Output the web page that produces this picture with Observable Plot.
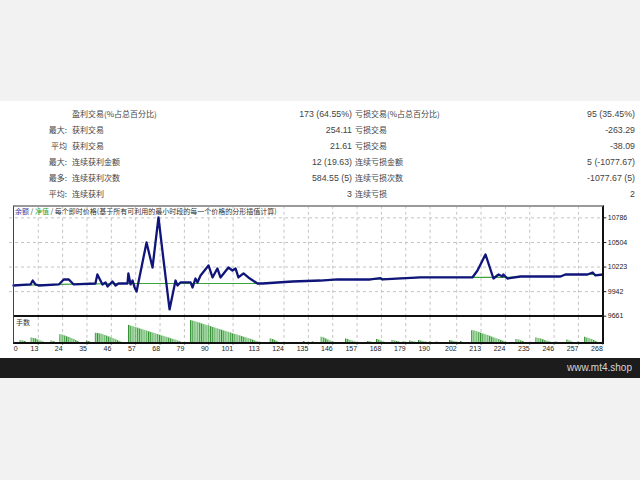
<!DOCTYPE html>
<html><head><meta charset="utf-8">
<script src="https://cdn.jsdelivr.net/npm/d3@7"></script>
<script src="https://cdn.jsdelivr.net/npm/@observablehq/plot@0.6"></script>
<style>
html,body{margin:0;padding:0;}
body{width:640px;height:480px;background:#f2f2f3;position:relative;overflow:hidden;font-family:"Liberation Sans","Noto Sans CJK SC",sans-serif;}
#white{position:absolute;left:0;top:101px;width:640px;height:257px;background:#fff;}
#bar{position:absolute;left:0;top:358px;width:640px;height:20px;background:#1c1c1c;}
#brand{position:absolute;right:8px;top:362px;color:#d6d6d6;font-size:10px;line-height:12px;}
.cell{position:absolute;color:#444;white-space:nowrap;line-height:10px;}
.cjk{font-size:8px;font-family:"Noto Sans CJK SC",sans-serif;}
.num{font-size:8.8px;font-family:"Liberation Sans",sans-serif;}
.plot{position:absolute;left:0;}
.frame{position:absolute;box-sizing:border-box;pointer-events:none;}
#title{position:absolute;left:15px;top:207px;font-size:7px;line-height:9px;color:#333;font-family:"Noto Sans CJK SC",sans-serif;white-space:nowrap;}
#lots{position:absolute;left:16px;top:318px;font-size:7px;line-height:9px;color:#333;font-family:"Noto Sans CJK SC",sans-serif;}
</style></head>
<body>
<div id="white"></div>
<div id="stats"></div>
<div id="bar"></div>
<div id="brand">www.mt4.shop</div>
<div id="chart"></div>
<script>
// ---- stats table ----
const statLeftLabels = ["", "最大:", "平均", "最大:", "最多:", "平均:"];
const statWinNames = ["盈利交易(%占总百分比)", "获利交易", "获利交易", "连续获利金额", "连续获利次数", "连续获利"];
const statWinValues = ["173 (64.55%)", "254.11", "21.61", "12 (19.63)", "584.55 (5)", "3"];
const statLossNames = ["亏损交易(%占总百分比)", "亏损交易", "亏损交易", "连续亏损金额", "连续亏损次数", "连续亏损"];
const statLossValues = ["95 (35.45%)", "-263.29", "-38.09", "5 (-1077.67)", "-1077.67 (5)", "2"];

// ---- chart text ----
const titleBalance = "余额";
const titleEquity = "净值";
const titleRest = "每个即时价格(基于所有可利用的最小时段的每一个价格的分形插值计算)";
const volumeLabel = "手数";

// ---- axes ----
const xTicks = [0, 13, 24, 35, 46, 57, 68, 79, 90, 101, 113, 124, 135, 146, 157, 168, 179, 190, 202, 213, 224, 235, 246, 257, 268];
const yTicks = [9661, 9942, 10223, 10504, 10786];

// ---- balance (trade index, value) ----
const balance = [
  [1.8,10012],[9.5,10024],[10.5,10069],[11.7,10024],[13.2,10012],[22.3,10024],[24.5,10081],[26.8,10081],[29,10024],
  [38.8,10035],[39.7,10138],[42,10024],[43.4,10047],[44.3,10001],[46.5,10058],[47.9,10012],[49.2,10035],[53.3,10035],
  [53.7,10150],[54.7,10024],[55.6,10069],[56.5,9989],[57.4,9944],[61.9,10504],[64.6,10218],[67.3,10790],[69.6,10298],
  [72.3,9738],[75,10069],[75.9,10012],[77.2,10047],[81.8,10047],[82.7,9989],[84,10092],[84.9,10047],[86.3,10127],
  [89.9,10241],[91.7,10104],[93.9,10207],[95.3,10104],[98.9,10218],[100.7,10184],[102.1,10207],[103.4,10104],
  [105.7,10150],[107.9,10104],[112,10035],[114.3,10035],[127.8,10058],[140.5,10069],[148.1,10081],[163,10081],
  [167.6,10096],[168.5,10081],[185.6,10104],[200.5,10104],[209.1,10104],[211.4,10184],[215,10367],[218.6,10092],
  [220.9,10138],[222.7,10115],[223.1,10138],[224.9,10092],[230.8,10115],[248.9,10115],[251.1,10138],[261.1,10138],
  [263.4,10161],[264.7,10127],[267.9,10138]
];
// ---- equity (trade index, value) ----
const equity = [
  [1.8,10012],[22,10024],[53,10035],[112,10035],[114.3,10035],[127.8,10058],[140.5,10069],[148,10081],[163,10081],
  [185.6,10104],[209,10104],[225,10104],[230.8,10115],[249,10115],[251,10138],[268,10138]
];
// ---- volumes (trade index, lots) ----
const volumes = [
  [5,0.025],[6,0.02],[7,0.015],
  [10,0.05],[11,0.045],[12,0.04],[13,0.03],[14,0.02],[15,0.012],
  [19,0.02],[20,0.015],
  [23,0.083],[24,0.078],[25,0.07],[26,0.062],[27,0.055],[28,0.045],[29,0.036],[30,0.025],[31,0.015],
  [35,0.02],[36,0.015],
  [39,0.097],[40,0.095],[41,0.09],[42,0.085],[43,0.075],[44,0.068],[45,0.06],[46,0.05],[47,0.042],[48,0.032],[49,0.022],[50,0.012],
  [54,0.176],[55,0.168],[56,0.162],[57,0.155],[58,0.148],[59,0.14],[60,0.133],[61,0.126],[62,0.119],[63,0.112],[64,0.105],
  [65,0.098],[66,0.091],[67,0.084],[68,0.077],[69,0.07],[70,0.063],[71,0.056],[72,0.049],[73,0.042],[74,0.035],[75,0.028],[76,0.02],[77,0.012],
  [82,0.223],[83,0.218],[84,0.211],[85,0.205],[86,0.198],[87,0.19],[88,0.183],[89,0.176],[90,0.17],[91,0.163],[92,0.155],
  [93,0.148],[94,0.141],[95,0.134],[96,0.127],[97,0.12],[98,0.113],[99,0.106],[100,0.099],[101,0.092],[102,0.085],[103,0.078],
  [104,0.071],[105,0.064],[106,0.057],[107,0.05],[108,0.043],[109,0.036],[110,0.028],[111,0.02],[112,0.012],
  [118,0.04],[119,0.035],[120,0.025],[121,0.015],
  [133,0.015],[137,0.012],
  [141,0.057],[142,0.05],[143,0.04],[144,0.03],[145,0.02],[146,0.012],
  [152,0.04],[153,0.035],[154,0.025],[155,0.018],[156,0.01],
  [162,0.015],[163,0.012],
  [166,0.035],[167,0.028],[168,0.02],[169,0.01],
  [173,0.025],[174,0.02],[175,0.015],[176,0.01],
  [178,0.012],
  [181,0.02],[182,0.015],[183,0.01],
  [185,0.025],[186,0.02],[187,0.015],[188,0.01],
  [190,0.01],[193,0.01],
  [199,0.025],[200,0.02],[201,0.015],
  [204,0.015],
  [209,0.123],[210,0.12],[211,0.113],[212,0.105],[213,0.098],[214,0.09],[215,0.082],[216,0.075],[217,0.067],[218,0.058],
  [219,0.05],[220,0.042],[221,0.034],[222,0.026],[223,0.018],[224,0.01],
  [229,0.035],[230,0.03],[231,0.022],[232,0.015],
  [238,0.05],[239,0.045],[240,0.04],[241,0.032],[242,0.025],[243,0.018],[244,0.012],
  [247,0.01],
  [252,0.03],[253,0.02],[254,0.01],
  [257,0.01],
  [260,0.057],[261,0.05],[262,0.042],[263,0.035],[264,0.025],[265,0.015]
];

// ---- build stats table ----
const stats = document.getElementById("stats");
function cell(text, cls, style) {
  const d = document.createElement("div");
  d.className = "cell " + cls;
  d.textContent = text;
  Object.assign(d.style, style);
  stats.appendChild(d);
}
statLeftLabels.forEach((t, i) => {
  const top = (109 + i * 16) + "px";
  cell(t, "cjk", {top, right: (640 - 67) + "px"});
  cell(statWinNames[i], "cjk", {top, left: "72px"});
  cell(statWinValues[i], "num", {top, right: (640 - 352) + "px"});
  cell(statLossNames[i], "cjk", {top, left: "355px"});
  cell(statLossValues[i], "num", {top, right: "5px"});
});

// ---- plots ----
const bal = balance.map(([i, v]) => ({i, v}));
const eq = equity.map(([i, v]) => ({i, v}));
const vol = volumes.map(([i, lot]) => ({i, lot}));
const gridStyle = {stroke: "#c4c4c4", strokeOpacity: 1, strokeDasharray: "3,3", strokeWidth: 1};
const xGrid = xTicks.filter(t => t > 0);
const fmt = d3.format("d");

const price = Plot.plot({
  width: 640, height: 120,
  marginTop: 5.7, marginBottom: 4.3, marginLeft: 9, marginRight: 37.7,
  x: {domain: [0, 268], axis: null},
  y: {domain: [9661, 10919]},
  style: {background: "transparent", fontFamily: "Liberation Sans", fontSize: "7px", color: "#222"},
  marks: [
    Plot.ruleY(yTicks.slice(1), gridStyle),
    Plot.ruleX(xGrid, gridStyle),
    Plot.line(eq, {x: "i", y: "v", stroke: "#3aa53a", strokeWidth: 1.2}),
    Plot.line(bal, {x: "i", y: "v", stroke: "#10157a", strokeWidth: 2.3}),
    Plot.axisY(yTicks, {anchor: "right", label: null, tickSize: 3, tickPadding: 2, tickFormat: fmt, stroke: "#222"})
  ]
});
price.classList.add("plot");
price.style.top = "200px";

const volPlot = Plot.plot({
  width: 640, height: 40,
  marginTop: 1, marginBottom: 13.5, marginLeft: 9, marginRight: 37.7,
  x: {domain: [0, 268]},
  y: {domain: [0, 0.255], axis: null},
  style: {background: "transparent", fontFamily: "Liberation Sans", fontSize: "7px", color: "#222", overflow: "visible"},
  marks: [
    Plot.ruleX(xGrid, gridStyle),
    Plot.ruleX(vol, {x: "i", y1: 0, y2: "lot", stroke: "#2f8f2f", strokeWidth: 1, dx: -0.5}),
    Plot.ruleX(vol, {x: "i", y1: 0, y2: "lot", stroke: "#8fd08f", strokeWidth: 1, dx: 0.5}),
    Plot.axisX(xGrid, {label: null, tickSize: 2, tickPadding: 1, textAnchor: "end", tickFormat: fmt}),
    Plot.axisX([0], {label: null, tickSize: 0, tickPadding: 3, textAnchor: "start", dx: 4.3, tickFormat: fmt})
  ]
});
volPlot.classList.add("plot");
volPlot.style.top = "316px";

const chart = document.getElementById("chart");
chart.appendChild(price);
chart.appendChild(volPlot);

// frames
function frame(style) {
  const d = document.createElement("div");
  d.className = "frame";
  Object.assign(d.style, style);
  chart.appendChild(d);
}
frame({left: "13px", top: "205px", width: "591px", height: "112px",
  borderTop: "2px solid #9a9a9a", borderLeft: "1px solid #444", borderRight: "2px solid #111", borderBottom: "2px solid #111"});
frame({left: "13px", top: "316px", width: "591px", height: "28px",
  borderLeft: "1px solid #444", borderRight: "2px solid #111", borderBottom: "2px solid #111"});

// titles
const title = document.createElement("div");
title.id = "title";
title.innerHTML = `<span style="color:#3a3aa0">${titleBalance}</span> / <span style="color:#2fa02f">${titleEquity}</span> / ${titleRest}`;
chart.appendChild(title);
const lots = document.createElement("div");
lots.id = "lots";
lots.textContent = volumeLabel;
chart.appendChild(lots);
</script>
</body></html>
